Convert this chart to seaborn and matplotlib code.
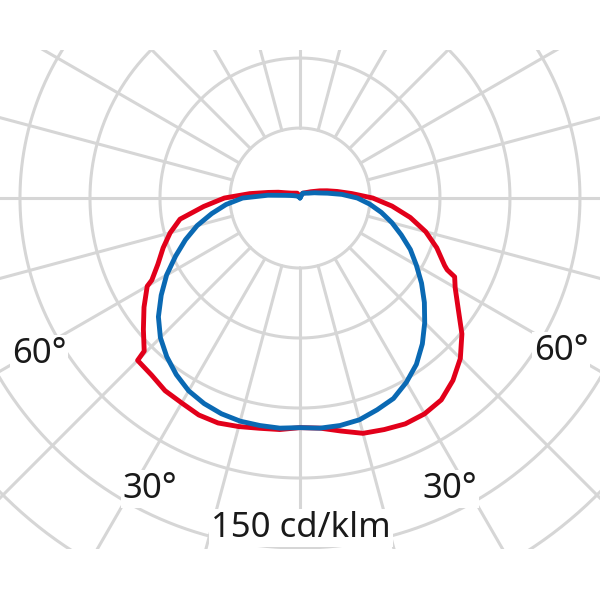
import numpy as np
import matplotlib
matplotlib.use("Agg")
import matplotlib.pyplot as plt
import seaborn as sns
from matplotlib.patches import Rectangle

sns.set_theme(style="white")
plt.rcParams['font.family'] = ['Noto Sans', 'DejaVu Sans']

# luminous intensity in cd/klm, angle from nadir in degrees (negative = left half)
blue_angles = [-180, -150, -120, -110, -105, -100, -95, -90, -85, -80,
               -75, -70, -65, -60, -55, -50, -45, -40, -35, -30,
               -25, -20, -15, -10, -5, 0, 5, 10, 15, 20,
               25, 30, 35, 40, 45, 50, 55, 60, 65, 70,
               75, 80, 85, 90, 95, 100, 105, 110, 120, 150, 180]
blue_values = [0, 1, 3, 5, 7, 11, 23, 41, 53, 64,
               76, 87, 98, 110, 121, 132, 141, 148, 154, 159,
               162, 164, 165, 165, 165, 164, 165, 165, 164, 161,
               158, 152, 145, 136, 126, 116, 106, 96, 87, 77,
               68, 59, 50, 41, 30, 20, 14, 11, 7, 4, 0]

red_angles = [-180, -150, -120, -110, -105, -100, -95, -90, -85, -80,
              -75, -70, -65, -61, -60, -55, -50, -45.5, -45, -40,
              -35, -30, -25, -20, -15, -10, -5, 0, 5, 10,
              15, 20, 25, 30, 35, 40, 45, 50, 55, 60,
              63, 64, 65, 70, 75, 80, 85, 90, 95, 100,
              105, 110, 120, 150, 180]
red_values = [1, 4, 7, 11, 16, 23, 36, 54, 69, 87,
              96, 104, 112, 121, 126, 136, 146, 156, 164, 165,
              168, 169, 171, 171, 169, 167, 166, 164, 165, 169,
              174, 176, 178, 178, 176, 170, 162, 151, 138, 128,
              124, 117, 114, 104, 93, 80, 66, 52, 37, 27,
              20, 15, 9, 4, 1]

ring_values = [50, 100, 150, 200, 250, 300, 350]
spoke_angles = list(range(0, 360, 15))
angle_labels = ["60°", "60°", "30°", "30°"]
scale_label = "150 cd/klm"

grid_color = "#d6d6d6"
red = "#e2001a"
blue = "#0a69b3"

fig = plt.figure(figsize=(6, 6), dpi=100)
ax = fig.add_axes([-0.3167, -0.1467, 1.6333, 1.6333], projection="polar")
ax.set_theta_zero_location("S")
ax.set_theta_direction(1)

# grid is cut to a rectangle like in the original sheet
clip = Rectangle((0, 0.085), 1, 0.8317, transform=fig.transFigure)

theta = np.linspace(0, 2 * np.pi, 721)
for r in ring_values:
    ln, = ax.plot(theta, np.full_like(theta, r), color=grid_color, lw=2.2, zorder=1)
    ln.set_clip_path(clip)
for a in spoke_angles:
    t = np.deg2rad(a)
    ln, = ax.plot([t, t], [ring_values[0], ring_values[-1]], color=grid_color, lw=2.2, zorder=1)
    ln.set_clip_path(clip)

sns.lineplot(x=np.deg2rad(red_angles), y=red_values, ax=ax, sort=False,
             estimator=None, color=red, lw=3.5, zorder=3)
sns.lineplot(x=np.deg2rad(blue_angles), y=blue_values, ax=ax, sort=False,
             estimator=None, color=blue, lw=3.5, zorder=4)

ax.set_ylim(0, 350)
ax.axis("off")

box = dict(facecolor="white", edgecolor="none", pad=1.5)
label_pos = [(39, 363), (561, 360), (150, 498), (450, 498)]
for s, (px, py) in zip(angle_labels, label_pos):
    fig.text(px / 600, 1 - py / 600, s, ha="center", va="baseline",
             fontsize=25, color="#1a1a1a", bbox=box)
fig.text(301 / 600, 1 - 537 / 600, scale_label, ha="center", va="baseline",
         fontsize=25, color="#1a1a1a", bbox=box)

fig.savefig("out.png", dpi=100, facecolor="white")
